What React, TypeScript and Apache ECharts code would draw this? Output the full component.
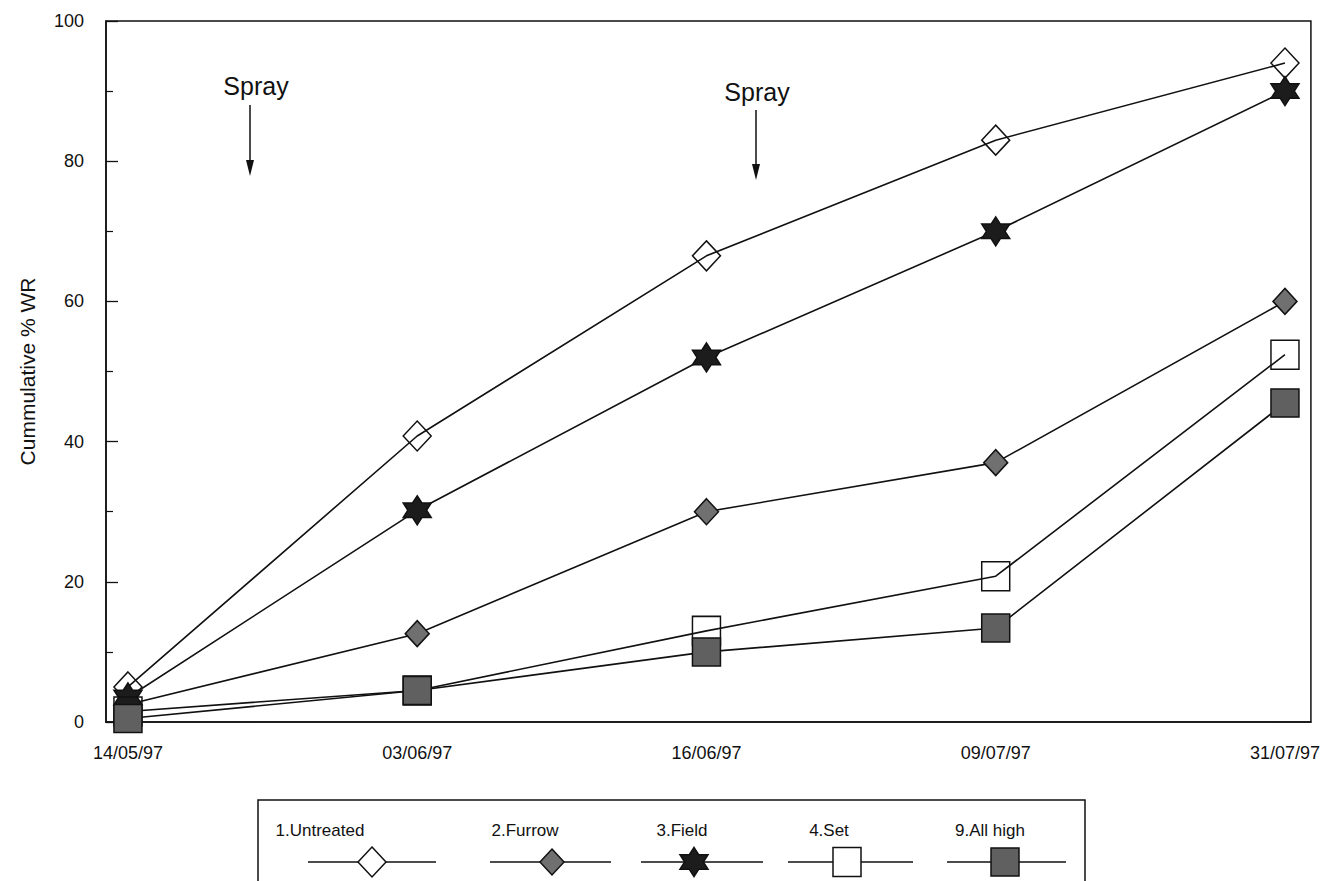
import React, { useEffect, useRef } from "react";
import * as echarts from "echarts";

const categories = ["14/05/97", "03/06/97", "16/06/97", "09/07/97", "31/07/97"];
const seriesNames = ["1.Untreated", "2.Furrow", "3.Field", "4.Set", "9.All high"];
const untreated = [5, 40.8, 66.5, 83, 94];
const furrow = [2.5, 12.6, 30, 37, 60];
const field = [3.5, 30.2, 52, 70, 90];
const setVals = [1.5, 4.5, 13, 20.8, 52.4];
const allHigh = [0.5, 4.5, 10, 13.4, 45.5];
const yTicks = [0, 20, 40, 60, 80, 100];

const FONT = "Liberation Sans, Arial, Helvetica, sans-serif";

function hexagramPoints(cx: number, cy: number, R: number): number[][] {
  const pts: number[][] = [];
  const r = R / Math.sqrt(3);
  for (let k = 0; k < 12; k++) {
    const ang = (-90 + k * 30) * Math.PI / 180;
    const rad = k % 2 === 0 ? R : r;
    pts.push([cx + rad * Math.cos(ang), cy + rad * Math.sin(ang)]);
  }
  return pts;
}

const starPts = hexagramPoints(10, 10, 10);
const starPath =
  "path://" +
  starPts.map((p, i) => (i === 0 ? "M" : "L") + p[0].toFixed(3) + " " + p[1].toFixed(3)).join(" ") +
  " Z";

const styles = [
  { symbol: "diamond", size: [28, 30], fill: "rgba(255,255,255,0)", border: "#111" },
  { symbol: "diamond", size: [24, 26], fill: "#707070", border: "#111" },
  { symbol: starPath, size: [28, 29], fill: "#1c1c1c", border: "#111" },
  { symbol: "rect", size: [28, 29], fill: "rgba(255,255,255,0)", border: "#111" },
  { symbol: "rect", size: [28, 28], fill: "#606060", border: "#111" },
];

// legend geometry (pixels)
const legendItems = [
  { tx: 320, mx: 372, x1: 308, x2: 436 },
  { tx: 525, mx: 552, x1: 490, x2: 611 },
  { tx: 682, mx: 694, x1: 641, x2: 763 },
  { tx: 829, mx: 847, x1: 788, x2: 913 },
  { tx: 990, mx: 1005, x1: 947, x2: 1066 },
];

export default function App() {
  const ref = useRef<HTMLDivElement>(null);
  useEffect(() => {
    if (!ref.current) return;
    const chart = echarts.init(ref.current, null, { renderer: "svg" });
    const allData = [untreated, furrow, field, setVals, allHigh];

    const series: any[] = allData.map((vals, si) => ({
      name: seriesNames[si],
      type: "line",
      data: vals.map((v, i) => [i, v]),
      symbol: styles[si].symbol,
      symbolSize: styles[si].size,
      showAllSymbol: true,
      lineStyle: { color: "#111", width: 1.6 },
      itemStyle: { color: styles[si].fill, borderColor: styles[si].border, borderWidth: 1.5 },
      z: 2 + si,
    }));

    const legendY = 862;
    const graphics: any[] = [
      { type: "rect", shape: { x: 258, y: 800, width: 827, height: 120 }, style: { fill: "none", stroke: "#111", lineWidth: 1.5 } },
      { type: "text", style: { text: "Spray", x: 256, y: 86, font: `25px ${FONT}`, fill: "#111", textAlign: "center", textVerticalAlign: "middle" } },
      { type: "line", shape: { x1: 250, y1: 105, x2: 250, y2: 172 }, style: { stroke: "#111", lineWidth: 1.5 } },
      { type: "polygon", shape: { points: [[246, 160], [254, 160], [250, 176]] }, style: { fill: "#111" } },
      { type: "text", style: { text: "Spray", x: 757, y: 92, font: `25px ${FONT}`, fill: "#111", textAlign: "center", textVerticalAlign: "middle" } },
      { type: "line", shape: { x1: 756, y1: 110, x2: 756, y2: 176 }, style: { stroke: "#111", lineWidth: 1.5 } },
      { type: "polygon", shape: { points: [[752, 164], [760, 164], [756, 180]] }, style: { fill: "#111" } },
    ];
    legendItems.forEach((it, i) => {
      graphics.push({ type: "text", style: { text: seriesNames[i], x: it.tx, y: 830, font: `17px ${FONT}`, fill: "#111", textAlign: "center", textVerticalAlign: "middle" } });
      graphics.push({ type: "line", shape: { x1: it.x1, y1: legendY, x2: it.x2, y2: legendY }, style: { stroke: "#111", lineWidth: 1.5 } });
      const st = styles[i];
      const w = st.size[0], h = st.size[1];
      const common = { style: { fill: st.fill === "rgba(255,255,255,0)" ? "#fff" : st.fill, stroke: "#111", lineWidth: 1.5 }, z: 10 };
      if (i === 0 || i === 1) {
        graphics.push({ type: "polygon", shape: { points: [[it.mx, legendY - h / 2], [it.mx + w / 2, legendY], [it.mx, legendY + h / 2], [it.mx - w / 2, legendY]] }, ...common });
      } else if (i === 2) {
        const pts = hexagramPoints(0, 0, 14).map((p) => [it.mx + p[0] * (w / 24.25), legendY + p[1] * (h / 28)]);
        graphics.push({ type: "polygon", shape: { points: pts }, ...common });
      } else {
        graphics.push({ type: "rect", shape: { x: it.mx - w / 2, y: legendY - h / 2, width: w, height: h }, ...common });
      }
    });

    chart.setOption({
      animation: false,
      backgroundColor: "#fff",
      textStyle: { fontFamily: FONT },
      grid: { left: 106, right: 10, top: 21, bottom: 159, show: true, borderColor: "#111", borderWidth: 1.5, backgroundColor: "transparent" },
      xAxis: {
        type: "value",
        min: -0.0759,
        max: 4.0897,
        splitLine: { show: false },
        axisLine: { show: true, onZero: false, lineStyle: { color: "#111", width: 1.5 } },
        axisTick: { show: false },
        axisLabel: {
          customValues: categories.map((_, i) => i),
          formatter: (v: number) => categories[Math.round(v)] ?? "",
          color: "#111",
          fontSize: 18,
          margin: 22,
          fontFamily: FONT,
        },
      },
      yAxis: {
        type: "value",
        min: 0,
        max: 100,
        interval: 20,
        name: "Cummulative % WR",
        nameLocation: "middle",
        nameRotate: 90,
        nameGap: 68,
        nameTextStyle: { fontSize: 21, color: "#111", fontFamily: FONT },
        splitLine: { show: false },
        axisLine: { show: true, onZero: false, lineStyle: { color: "#111", width: 1.5 } },
        axisTick: { show: true, inside: true, length: 12, lineStyle: { color: "#111", width: 1.3 } },
        minorTick: { show: true, splitNumber: 2, length: 7, lineStyle: { color: "#111", width: 1.2 } },
        axisLabel: {
          color: "#111",
          fontSize: 18,
          margin: 22,
          fontFamily: FONT,
          customValues: yTicks,
        },
      },
      series,
      graphic: graphics,
    });
    return () => chart.dispose();
  }, []);
  return <div ref={ref} style={{ position: "fixed", left: 0, top: 0, width: 1323, height: 881, background: "#fff" }} />;
}
